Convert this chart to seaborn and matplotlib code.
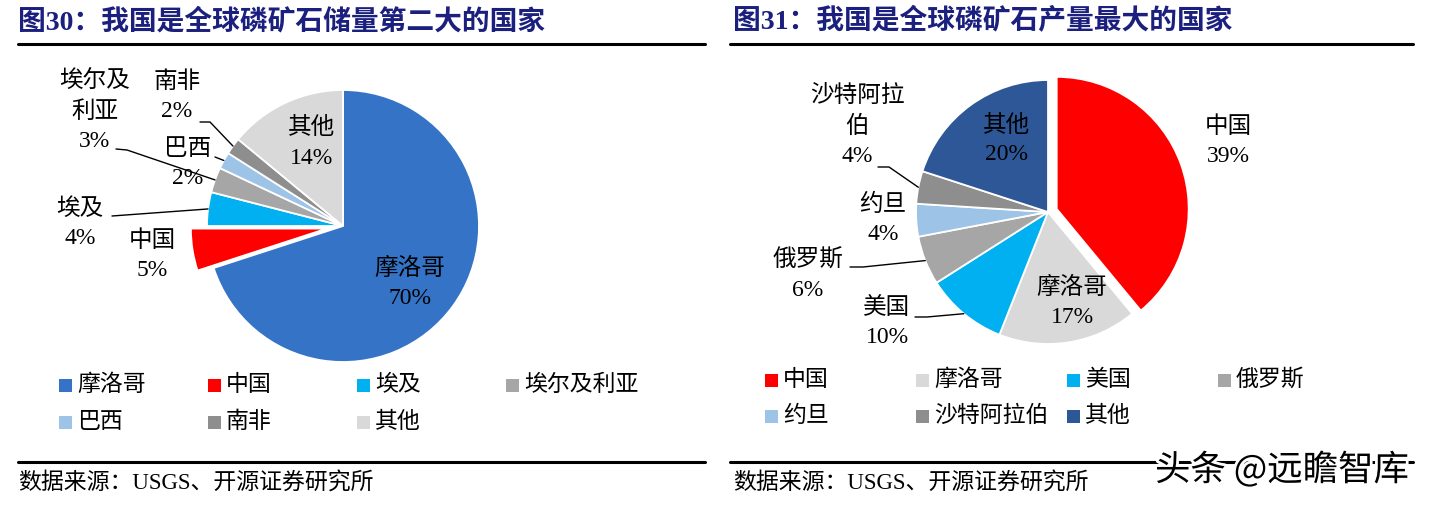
import matplotlib
matplotlib.use("Agg")
import matplotlib.pyplot as plt
import seaborn as sns
import numpy as np
from matplotlib.lines import Line2D
from matplotlib.patches import Rectangle
import matplotlib.patheffects as pe

# ---------------- data ----------------
reserve_countries = ["摩洛哥", "中国", "埃及", "埃尔及利亚", "巴西", "南非", "其他"]
reserve_share = [70, 5, 4, 3, 2, 2, 14]
reserve_colors = ["#3473C5", "#FF0000", "#00B0F0", "#A6A6A6", "#9DC3E6", "#8E8E8E", "#D9D9D9"]

prod_countries = ["中国", "摩洛哥", "美国", "俄罗斯", "约旦", "沙特阿拉伯", "其他"]
prod_share = [39, 17, 10, 6, 4, 4, 20]
prod_colors = ["#FF0000", "#D9D9D9", "#00B0F0", "#A6A6A6", "#9DC3E6", "#8E8E8E", "#2E5797"]

title_left = "图30：我国是全球磷矿石储量第二大的国家"
title_right = "图31：我国是全球磷矿石产量最大的国家"
source_text = "数据来源：USGS、开源证券研究所"
watermark = "头条 @远瞻智库"

wrap = {"埃尔及利亚": "埃尔及\n利亚", "沙特阿拉伯": "沙特阿拉\n伯"}

# ---------------- style ----------------
W, H = 1438, 505
sns.set_theme(style="white")
plt.rcParams['font.family'] = ['Liberation Serif', 'Noto Sans CJK SC']
TITLE_COLOR = "#1B1F7E"

fig = plt.figure(figsize=(W / 100, H / 100), dpi=100)
fig.patch.set_facecolor("white")


def fx(x):
    return x / W


def fy(y):
    return 1 - y / H


def hline(x0, x1, y, lw=2.2):
    fig.add_artist(Line2D([fx(x0), fx(x1)], [fy(y), fy(y)], color="black", lw=lw))


def draw_pie(cx, cy, r, names, values, colors, explode_idx, explode, label_pos, leaders):
    L = 1.4
    ax = fig.add_axes([(cx - L * r) / W, 1 - (cy + L * r) / H, 2 * L * r / W, 2 * L * r / H])
    expl = [explode if i == explode_idx else 0 for i in range(len(values))]
    wedges, _ = ax.pie(values, colors=colors, explode=expl, startangle=90,
                       counterclock=False, radius=1,
                       wedgeprops=dict(edgecolor="white", linewidth=1.3))
    ax.set_xlim(-L, L)
    ax.set_ylim(-L, L)
    ax.set_aspect("auto")
    ax.axis("off")

    def d(px, py):
        return (px - cx) / r, (cy - py) / r

    for i, (name, v) in enumerate(zip(names, values)):
        tx, ty = d(*label_pos[i])
        ax.text(tx, ty, f"{wrap.get(name, name)}\n{v}%", ha="center", va="center",
                fontsize=17, linespacing=1.5, color="black")
        if leaders[i] is not None:
            w = wedges[i]
            mid = np.deg2rad((w.theta1 + w.theta2) / 2)
            ex = w.center[0] + np.cos(mid)
            ey = w.center[1] + np.sin(mid)
            pts = [d(*p) for p in leaders[i]]
            xs = [p[0] for p in pts] + [ex]
            ys = [p[1] for p in pts] + [ey]
            ax.plot(xs, ys, color="black", lw=1.0, clip_on=False)
    return ax


def draw_legend(names, colors, col_x, row_y):
    for i, (name, c) in enumerate(zip(names, colors)):
        x = col_x[i % 4]
        y = row_y[i // 4]
        fig.add_artist(Rectangle((fx(x), fy(y + 6.5)), 13 / W, 13 / H, facecolor=c,
                                 edgecolor="none", transform=fig.transFigure))
        fig.text(fx(x + 18), fy(y), name, ha="left", va="center", fontsize=16.5, color="black")


# ---------------- left panel ----------------
fig.text(fx(18), fy(22), title_left, ha="left", va="center", fontsize=20,
         fontweight="bold", color=TITLE_COLOR)
hline(18, 705, 44)

left_labels = [(410, 283), (152, 256), (80, 224), (95, 111), (188, 164), (177, 97), (312, 143)]
left_leaders = [None, None, [(112, 216)], [(116, 149), (127, 150)], [(215, 157)],
                [(200, 122), (210, 122)], None]
draw_pie(343, 226, 136, reserve_countries, reserve_share, reserve_colors, 1, 0.12,
         left_labels, left_leaders)
draw_legend(reserve_countries, reserve_colors, [59, 208, 357, 506], [385, 422])
hline(18, 705, 462)
fig.text(fx(18), fy(484), source_text, ha="left", va="center", fontsize=16.5, color="black")

# ---------------- right panel ----------------
fig.text(fx(733), fy(22), title_right, ha="left", va="center", fontsize=20,
         fontweight="bold", color=TITLE_COLOR)
hline(730, 1413, 44)

right_labels = [(1228, 142), (1072, 302), (887, 323), (808, 275), (883, 219), (857, 126), (1007, 140)]
right_leaders = [None, None, [(915, 317), (927, 317)], [(850, 267), (863, 267)], None,
                 [(878, 167), (889, 167)], None]
draw_pie(1048, 212, 132, prod_countries, prod_share, prod_colors, 0, 0.07,
         right_labels, right_leaders)
draw_legend(prod_countries, prod_colors, [765, 916, 1067, 1218], [380, 416])
hline(730, 1413, 462)
fig.text(fx(733), fy(484), source_text, ha="left", va="center", fontsize=16.5, color="black")

# watermark
fig.text(fx(1155), fy(470), watermark, ha="left", va="center", fontsize=25.5,
         family=["Noto Sans CJK SC", "DejaVu Sans"], color="black",
         path_effects=[pe.withStroke(linewidth=4, foreground="white")])

fig.savefig("out.png", dpi=100, facecolor="white")
